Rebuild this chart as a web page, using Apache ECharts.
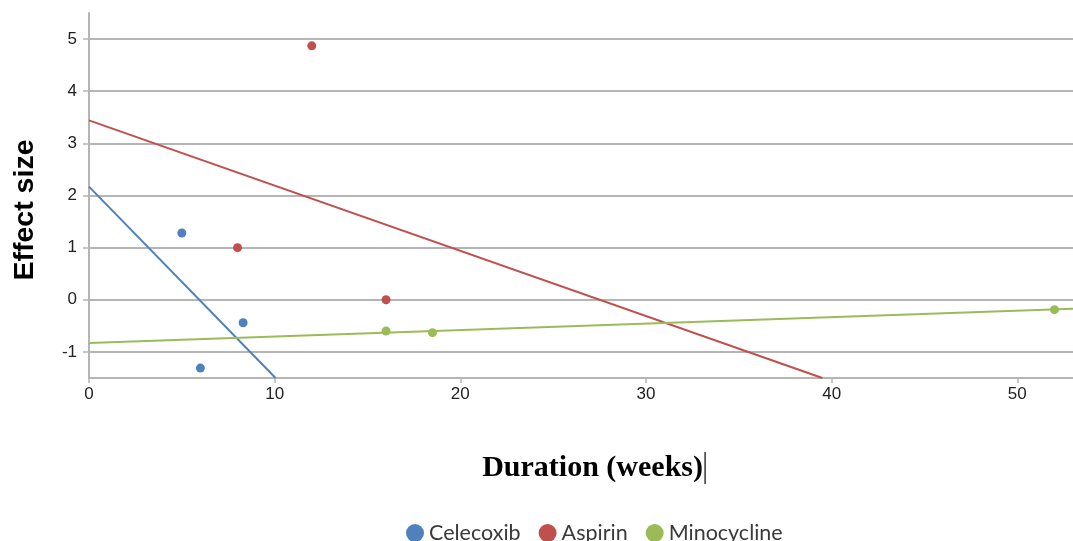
<!DOCTYPE html>
<html><head><meta charset="utf-8">
<script src="https://cdn.jsdelivr.net/npm/echarts@6/dist/echarts.min.js"></script>
<style>html,body{margin:0;padding:0;background:#fff}#c{width:1073px;height:541px}</style>
</head><body><div id="c"></div>
<script>
const seriesNames = ['Celecoxib', 'Aspirin', 'Minocycline'];
const colors = ['#4f81bd', '#c0504d', '#9bbb59'];
const celecoxibPoints = [[5, 1.28], [8.3, -0.44], [6, -1.31]];
const aspirinPoints = [[12, 4.87], [8, 1.0], [16, 0]];
const minocyclinePoints = [[16, -0.6], [18.5, -0.63], [52, -0.19]];
const celecoxibFit = [[0, 2.17], [10.05, -1.5]];
const aspirinFit = [[0, 3.44], [39.5, -1.5]];
const minocyclineFit = [[0, -0.83], [53, -0.17]];
const xTicks = [0, 10, 20, 30, 40, 50];
const yTicks = [-1, 0, 1, 2, 3, 4, 5];

const points = [celecoxibPoints, aspirinPoints, minocyclinePoints];
const fits = [celecoxibFit, aspirinFit, minocyclineFit];

const series = [];
seriesNames.forEach((n, i) => {
  series.push({ name: n, type: 'line', data: fits[i], showSymbol: false, symbol: 'none',
    lineStyle: { color: colors[i], width: 2 }, itemStyle: { color: colors[i] }, silent: true, z: 2 });
  series.push({ name: n, type: 'scatter', data: points[i], symbolSize: 9,
    itemStyle: { color: colors[i], opacity: 1 }, z: 3 });
});

const axisGray = '#b5b5b5';
const chart = echarts.init(document.getElementById('c'));
chart.setOption({
  animation: false,
  grid: { left: 89, right: 0, top: 13, bottom: 163 },
  xAxis: {
    type: 'value', min: 0, max: 53,
    axisLine: { show: true, onZero: false, lineStyle: { color: axisGray, width: 2 } },
    axisTick: { show: true, length: 5, customValues: xTicks, lineStyle: { color: axisGray, width: 1.5 } },
    splitLine: { show: false },
    axisLabel: { color: '#222', fontSize: 17, fontFamily: '"Liberation Sans", Arial, sans-serif', margin: 8,
      customValues: xTicks }
  },
  yAxis: {
    type: 'value', min: -1.5, max: 5.5,
    axisLine: { show: true, onZero: false, lineStyle: { color: axisGray, width: 2 } },
    axisTick: { show: true, length: 6, customValues: yTicks, lineStyle: { color: axisGray, width: 1.5 } },
    splitLine: { show: true, showMinLine: true, showMaxLine: true, lineStyle: { color: axisGray, width: 2 } },
    axisLabel: { color: '#222', fontSize: 17, fontFamily: '"Liberation Sans", Arial, sans-serif', margin: 12,
      customValues: yTicks }
  },
  legend: {
    left: 401, top: 517, itemGap: 18, itemWidth: 18, itemHeight: 18, icon: 'circle',
    data: seriesNames,
    textStyle: { color: '#3a3a3a', fontSize: 21.5, fontFamily: 'Lato' }
  },
  graphic: [
    { type: 'text', x: 25, y: 210, rotation: Math.PI / 2,
      style: { text: 'Effect size', font: 'bold 28.5px "Liberation Sans", Arial, sans-serif', fill: '#000',
        textAlign: 'center', textVerticalAlign: 'middle' } },
    { type: 'text', x: 703, y: 468,
      style: { text: 'Duration (weeks)', font: 'bold 30px "Liberation Serif", "Times New Roman", serif', fill: '#000',
        textAlign: 'right', textVerticalAlign: 'middle' } },
    { type: 'rect', shape: { x: 704.5, y: 452, width: 1.2, height: 32 }, style: { fill: '#000' } }
  ],
  series: series
});
</script></body></html>
